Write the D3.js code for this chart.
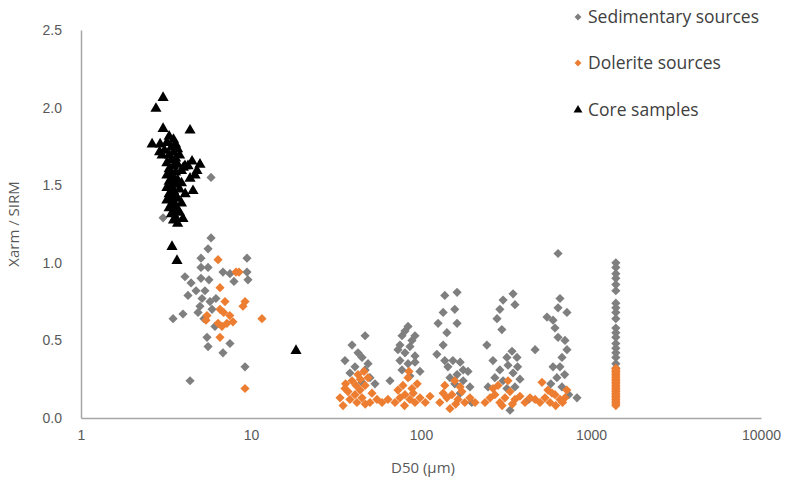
<!DOCTYPE html>
<html>
<head>
<meta charset="utf-8">
<script src="https://cdn.jsdelivr.net/npm/d3@7"></script>
<style>
  html, body { margin: 0; padding: 0; background: #fff; }
  svg { display: block; font-family: "Open Sans", "Noto Sans", sans-serif; }
</style>
</head>
<body>
<svg id="chart" width="785" height="488"></svg>
<script>
// Sedimentary source samples: [D50 (µm), Xarm/SIRM]
const sedimentary = [
  [5.82,1.16],[5.59,1.09],[5.08,1.03],[5.59,0.97],[5.08,0.97],[4.09,0.91],[4.44,0.87],[5.08,0.90],
  [5.66,0.89],[4.26,0.79],[5.15,0.77],[5.74,0.75],[6.22,0.77],[5.01,0.72],[3.48,0.64],[3.98,0.67],
  [5.29,0.64],[5.51,0.52],[5.59,0.46],[6.84,0.42],[7.52,0.48],[9.22,0.33],[4.38,0.24],[9.47,0.94],
  [9.47,1.03],[9.60,0.89],[7.52,0.93],[6.84,0.94],[7.94,0.88],[6.14,0.59],[5.82,1.55],[3.04,1.29],
  [4.75,0.82],[5.36,0.82],[4.88,0.68],[5.90,0.70],
  [39.3,0.47],[46.9,0.53],[35.7,0.37],[45.0,0.39],[40.9,0.33],[46.9,0.31],[50.1,0.26],[38.2,0.29],
  [45.0,0.23],[53.6,0.22],[42.6,0.42],[48.8,0.35],
  [83.9,0.59],[77.3,0.53],[92.2,0.53],[75.2,0.47],[86.1,0.46],[80.5,0.42],[75.2,0.37],[83.9,0.35],
  [77.3,0.31],[65.7,0.24],[92.2,0.40],[88.5,0.50],[80.5,0.56],[98.6,0.30],[86.1,0.27],[73.2,0.44],
  [92.2,0.36],
  [138,0.79],[163,0.81],[158,0.70],[135,0.68],[163,0.61],[126,0.61],[142,0.55],[135,0.47],
  [124,0.41],[138,0.37],[154,0.37],[170,0.36],[144,0.33],[177,0.31],[177,0.24],[148,0.26],
  [163,0.28],[189,0.30],[194,0.20],[170,0.16],[158,0.22],[199,0.10],
  [348,0.80],[304,0.76],[357,0.73],[291,0.70],[280,0.64],[299,0.57],[244,0.47],[343,0.43],
  [320,0.39],[367,0.39],[265,0.37],[325,0.34],[291,0.31],[348,0.29],[304,0.24],[272,0.26],
  [334,0.05],[382,0.25],[357,0.20],[320,0.19],[248,0.20],[370,0.33],[430,0.12],
  [640,1.06],[657,0.77],[640,0.71],[722,0.68],[551,0.65],[598,0.63],[614,0.58],[640,0.52],
  [703,0.50],[722,0.44],[675,0.39],[657,0.33],[598,0.33],[469,0.44],[827,0.13],[630,0.26],
  [675,0.20],[580,0.22],[700,0.28],[740,0.15],
  [1400,1.00],[1400,0.97],[1400,0.93],[1400,0.90],[1400,0.86],[1400,0.82],[1400,0.74],[1400,0.71],
  [1400,0.68],[1400,0.64],[1400,0.58],[1400,0.55],[1400,0.52],[1400,0.48],[1400,0.45],[1400,0.42],
  [1400,0.39],[1400,0.35],[1400,0.32]
];

// Dolerite source samples: [D50 (µm), Xarm/SIRM]
const dolerite = [
  [6.40,1.02],[8.16,0.94],[6.57,0.84],[7.03,0.75],[9.22,0.75],[8.97,0.72],[6.57,0.70],[5.51,0.66],
  [6.40,0.61],[7.22,0.61],[7.83,0.62],[6.75,0.59],[6.57,0.52],[11.6,0.64],[9.22,0.19],[5.44,0.63],
  [7.50,0.66],[6.90,0.68],[8.50,0.94],
  [34.8,0.08],[38.2,0.12],[40.9,0.15],[43.8,0.18],[46.9,0.21],[39.3,0.24],[42.6,0.28],[48.8,0.26],
  [35.7,0.19],[45.0,0.13],[50.1,0.10],[37.2,0.17],[41.5,0.21],[46.2,0.30],[51.5,0.16],[55.1,0.12],
  [33.4,0.13],[42.0,0.10],[47.0,0.09],[36.0,0.22],[44.0,0.25],
  [59.0,0.10],[63.9,0.12],[70.3,0.10],[75.2,0.13],[80.5,0.15],[86.1,0.12],[92.2,0.10],[98.6,0.13],
  [78.3,0.21],[83.9,0.26],[73.2,0.18],[88.5,0.19],[106,0.10],[113,0.14],[80.0,0.08],[90.0,0.16],
  [95.0,0.22],[85.0,0.30],
  [129,0.10],[142,0.13],[152,0.15],[165,0.12],[174,0.17],[138,0.21],[158,0.24],[181,0.10],
  [194,0.13],[148,0.06],[208,0.10],[135,0.16],[160,0.09],[170,0.20],
  [238,0.10],[255,0.13],[272,0.15],[291,0.10],[312,0.13],[334,0.17],[357,0.12],[382,0.14],
  [284,0.21],[325,0.24],[409,0.10],[438,0.13],[300,0.08],[345,0.09],[265,0.19],
  [501,0.10],[536,0.13],[574,0.10],[614,0.15],[657,0.12],[703,0.13],[515,0.23],[558,0.18],
  [469,0.12],[620,0.08],[680,0.10],[590,0.16],[720,0.18],
  [1400,0.08],[1400,0.09],[1400,0.10],[1400,0.11],[1400,0.12],[1400,0.13],[1400,0.14],[1400,0.15],
  [1400,0.16],[1400,0.17],[1400,0.18],[1400,0.19],[1400,0.20],[1400,0.21],[1400,0.22],[1400,0.23],
  [1400,0.24],[1400,0.25],[1400,0.26],[1400,0.27],[1400,0.28],[1400,0.29],[1400,0.30],[1400,0.31],
  [1400,0.32]
];

// Core samples: [D50 (µm), Xarm/SIRM]
const core = [
  [3.04,2.07],[2.76,2.00],[3.04,1.87],[4.38,1.86],[2.62,1.77],[2.92,1.77],
  [4.50,1.66],[4.81,1.60],[4.26,1.63],[4.69,1.57],[4.09,1.63],[4.56,1.47],[3.98,1.29],[5.01,1.64],
  [4.38,1.55],[3.43,1.11],[3.67,1.02],[18.4,0.44],
  [3.3,1.82],[3.5,1.80],[3.2,1.78],[3.6,1.77],[3.4,1.75],[3.7,1.74],[3.1,1.73],[3.5,1.72],
  [3.3,1.70],[3.8,1.70],[3.6,1.68],[3.4,1.67],[3.2,1.65],[3.7,1.64],[3.5,1.63],[3.3,1.61],
  [3.9,1.60],[3.6,1.59],[3.4,1.58],[3.2,1.57],[3.5,1.55],[3.7,1.54],[3.3,1.53],[3.6,1.51],
  [3.4,1.50],[3.2,1.49],[3.8,1.48],[3.5,1.47],[3.3,1.45],[3.6,1.44],[3.4,1.43],[3.7,1.42],
  [3.2,1.41],[3.5,1.40],[3.9,1.39],[3.4,1.38],[3.6,1.37],[3.3,1.36],[3.7,1.35],[3.5,1.34],
  [3.8,1.33],[3.4,1.32],[3.6,1.30],[3.5,1.28],[3.7,1.26],[3.0,1.70],[2.9,1.72],[4.0,1.62],
  [4.1,1.45],[3.9,1.52]
];

const xTicks = [1, 10, 100, 1000, 10000];
const yTicks = [0, 0.5, 1.0, 1.5, 2.0, 2.5];

const seriesNames = ["Sedimentary sources", "Dolerite sources", "Core samples"];
const colors = { sed: "#7f7f7f", dol: "#ed7d31", core: "#000000" };
const textColor = "#595959";
const axisColor = "#a6a6a6";

const svg = d3.select("#chart");
const plot = { left: 81, right: 761, top: 30, bottom: 418 };

const x = d3.scaleLog().domain([1, 10000]).range([plot.left, plot.right]);
const y = d3.scaleLinear().domain([0, 2.5]).range([plot.bottom, plot.top]);

// Axes: no tick marks, grey lines
const xAxis = svg.append("g")
  .attr("transform", `translate(0,${plot.bottom})`)
  .call(d3.axisBottom(x).tickValues(xTicks).tickFormat(d3.format("d")).tickSize(0).tickPadding(12));
const yAxis = svg.append("g")
  .attr("transform", `translate(${plot.left},0)`)
  .call(d3.axisLeft(y).tickValues(yTicks).tickFormat(d3.format(".1f")).tickSize(0).tickPadding(19));

[xAxis, yAxis].forEach(g => {
  g.select(".domain").attr("stroke", axisColor).attr("stroke-width", 1.5);
  g.selectAll("text").attr("fill", textColor).attr("font-size", 14);
});

// Markers
const diamond = d3.symbol().type(d3.symbolDiamond2).size(54);
const tri = d3.symbol().type(d3.symbolTriangle).size(54);

svg.append("g").selectAll("path").data(sedimentary).join("path")
  .attr("d", diamond)
  .attr("transform", d => `translate(${x(d[0])},${y(d[1])})`)
  .attr("fill", colors.sed);

svg.append("g").selectAll("path").data(dolerite).join("path")
  .attr("d", diamond)
  .attr("transform", d => `translate(${x(d[0])},${y(d[1])})`)
  .attr("fill", colors.dol);

svg.append("g").selectAll("path").data(core).join("path")
  .attr("d", tri)
  .attr("transform", d => `translate(${x(d[0])},${y(d[1]) + 1})`)
  .attr("fill", colors.core);

// Axis titles
svg.append("text")
  .attr("x", 423).attr("y", 473)
  .attr("text-anchor", "middle")
  .attr("fill", textColor).attr("font-size", 15)
  .text("D50 (µm)");

svg.append("text")
  .attr("transform", `translate(19,224) rotate(-90)`)
  .attr("text-anchor", "middle")
  .attr("fill", textColor).attr("font-size", 15)
  .text("Xarm / SIRM");

// Legend
const legend = svg.append("g").attr("transform", "translate(578,0)");
const legendSymbols = [
  d3.symbol().type(d3.symbolDiamond2).size(30)(),
  d3.symbol().type(d3.symbolDiamond2).size(30)(),
  d3.symbol().type(d3.symbolTriangle).size(34)()
];
const legendColors = [colors.sed, colors.dol, colors.core];
const legendY = [17, 63, 110];
seriesNames.forEach((name, i) => {
  legend.append("path")
    .attr("d", legendSymbols[i])
    .attr("transform", `translate(0,${legendY[i]})`)
    .attr("fill", legendColors[i]);
  legend.append("text")
    .attr("x", 10).attr("y", legendY[i] + 6)
    .attr("fill", "#404040").attr("font-size", 17.5)
    .text(name);
});
</script>
</body>
</html>
